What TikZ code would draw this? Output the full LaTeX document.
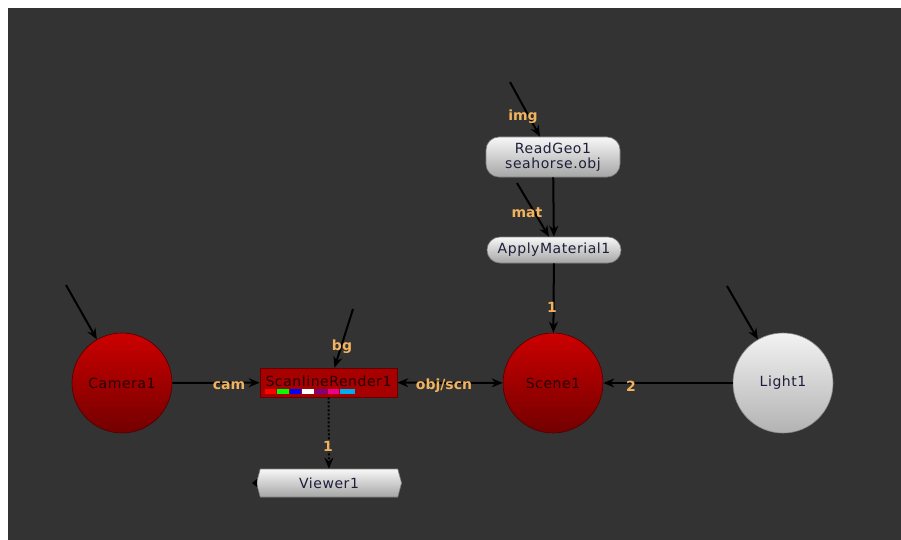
\documentclass[tikz,border=0pt]{standalone}
\usepackage{fontspec}
\setmainfont{DejaVu Sans}
\newfontfamily\nodefont[LetterSpace=4]{DejaVu Sans}
\usetikzlibrary{arrows.meta,shapes.symbols}
\definecolor{bgdark}{HTML}{333333}
\definecolor{lbl}{HTML}{F2B35E}
\definecolor{nodetxt}{HTML}{1E1E3A}
\tikzset{
  nf/.style={font=\nodefont\fontsize{14}{15}\selectfont},
  redcirc/.style={circle,minimum size=100pt,inner sep=0pt,draw=black!70!red,line width=0.6pt,
     top color=red!80!black,bottom color=red!45!black,text=black!85!red,nf},
  graycirc/.style={circle,minimum size=100pt,inner sep=0pt,draw=black!45,line width=0.6pt,
     top color=black!5,bottom color=black!30,text=nodetxt,nf},
  pill/.style={rounded corners=13pt,minimum width=134pt,inner sep=0pt,draw=black!50,line width=0.6pt,
     top color=black!3,bottom color=black!35,text=nodetxt,align=center,nf},
  scanbox/.style={rectangle,minimum width=137pt,minimum height=29pt,inner sep=0pt,draw=black!60!red,
     fill=red!65!black,line width=0.6pt},
  viewerbox/.style={signal,signal to=west and east,signal pointer angle=150,minimum width=145pt,
     minimum height=28pt,inner sep=0pt,draw=black!50,line width=0.6pt,top color=black!3,bottom color=black!35,
     text=nodetxt,nf},
  conn/.style={draw=black,line width=2pt,-{Stealth[length=11pt,width=9pt]}},
  lab/.style={text=lbl,font=\bfseries\fontsize{14}{15}\selectfont,inner sep=0pt}
}
\begin{document}
\begin{tikzpicture}[x=1pt,y=-1pt]
\useasboundingbox (0,0) rectangle (901,540);
\fill[white] (0,0) rectangle (901,540);
\fill[bgdark] (8,8) rectangle (901,540);

% nodes
\node[redcirc] (camera) at (122,383) {Camera1};
\node[redcirc] (scene) at (553,383) {Scene1};
\node[graycirc] (light) at (783,383) {Light1};
\node[scanbox] (scan) at (328.5,382.5) {};
\foreach \c/\a/\b in {red/265/276,green/277/289,blue/290/301,white/302/314,violet/315/327,magenta/328/339,cyan/340/355}
  \fill[\c] (\a,388.5) rectangle (\b,394);
\node[text=black!85!red,nf,inner sep=0pt] (scantext) at (328.5,381) {ScanlineRender1};
\node[pill,minimum height=40pt] (readgeo) at (553,157) {ReadGeo1\\seahorse.obj};
\node[pill,minimum height=26pt] (applymat) at (554,250) {ApplyMaterial1};
\node[viewerbox] (viewer) at (329,483) {Viewer1};
\fill[black] (252,483) -- (257,479) -- (257,487) -- cycle;

% free ends
\coordinate (camin) at (66,285);
\coordinate (lightin) at (727,286);
\coordinate (bgin) at (353,309);
\coordinate (imgin) at (510,82);
\coordinate (matin) at (517,183);

% connectors
\draw[conn] (camin) -- (camera.120);
\draw[conn] (lightin) -- (light.120);
\draw[conn] (camera) -- (scan);
\draw[conn] (bgin) -- ([xshift=6pt]scan.north);
\draw[conn,{Stealth[length=11pt,width=9pt]}-{Stealth[length=11pt,width=9pt]}] (scan) -- (scene);
\draw[conn] (light) -- (scene);
\draw[conn] (applymat) -- (scene);
\draw[conn] (readgeo) -- (applymat);
\draw[conn] (imgin) -- ([xshift=-13pt]readgeo.north);
\draw[conn] (matin) -- ([xshift=-5pt]applymat.north);
\draw[conn,dotted] (scan) -- (viewer);

% labels
\node[lab] (lcam) at (229,386) {cam};
\node[lab] (lbg) at (342,347) {bg};
\node[lab] (lobj) at (444,386) {obj/scn};
\node[lab] (l2) at (631,386) {2};
\node[lab] (l1s) at (552,307) {1};
\node[lab] (limg) at (523,117) {img};
\node[lab] (lmat) at (527,213) {mat};
\node[lab] (l1v) at (328,446) {1};
\end{tikzpicture}
\end{document}
